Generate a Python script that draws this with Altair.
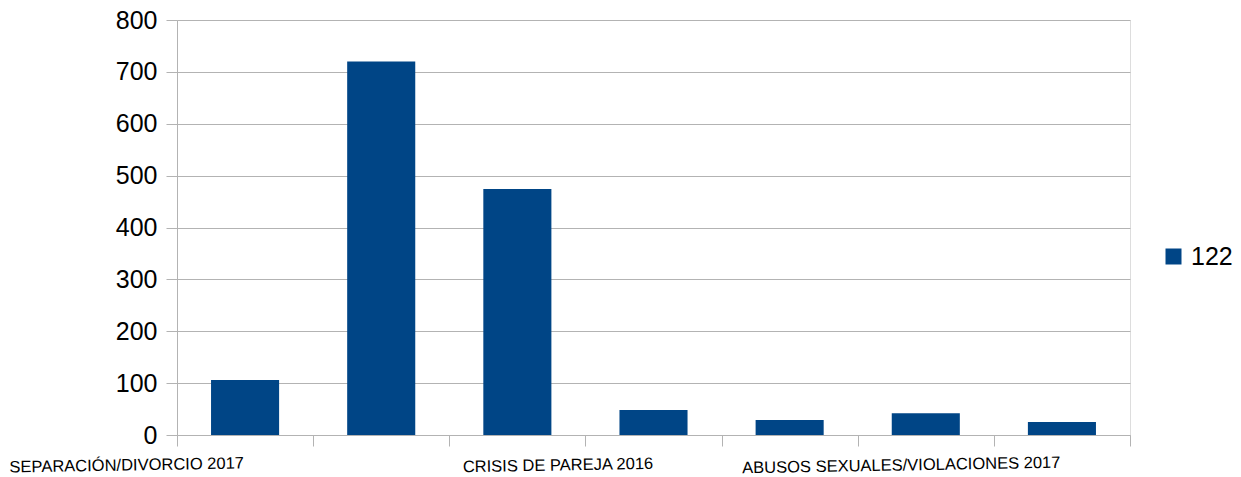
import altair as alt
import pandas as pd

categories = [
    "SEPARACIÓN/DIVORCIO 2017",
    "CATEGORÍA 2",
    "CRISIS DE PAREJA 2016",
    "CATEGORÍA 4",
    "ABUSOS SEXUALES/VIOLACIONES 2017",
    "CATEGORÍA 6",
    "CATEGORÍA 7",
]
values = [106, 720, 474, 48, 29, 42, 25]
shown_labels = ["SEPARACIÓN/DIVORCIO 2017", "CRISIS DE PAREJA 2016", "ABUSOS SEXUALES/VIOLACIONES 2017"]
label_offsets = [-119, 40, 111]
series_name = "122"
y_ticks = [0, 100, 200, 300, 400, 500, 600, 700, 800]

df = pd.DataFrame({"cat": categories, "val": values, "serie": [series_name] * len(categories)})

FONT = "Liberation Sans"
GRID = "#b3b3b3"

shown_js = "[" + ",".join("'" + s + "'" for s in shown_labels) + "]"
label_expr = f"indexof({shown_js}, datum.value) >= 0 ? datum.value : ''"

offset_cond = {
    "condition": [
        {"test": f"datum.value == '{shown_labels[0]}'", "value": label_offsets[0]},
        {"test": f"datum.value == '{shown_labels[1]}'", "value": label_offsets[1]},
    ],
    "value": label_offsets[2],
}

chart = alt.Chart(df).mark_bar(width=alt.RelativeBandSize(0.5)).encode(
    x=alt.X(
        "cat:N",
        sort=categories,
        scale=alt.Scale(paddingInner=0, paddingOuter=0),
        axis=alt.Axis(
            title=None,
            labelExpr=label_expr,
            labelAngle=359,
            labelAlign="center",
            labelBaseline="top",
            labelFont=FONT,
            labelFontSize=16.5,
            labelColor="#000000",
            labelPadding=11,
            labelOffset=offset_cond,
            labelOverlap=False,
            labelLimit=0,
            tickBand="extent",
            tickSize=11,
            tickColor=GRID,
            domainColor=GRID,
            grid=False,
        ),
    ),
    y=alt.Y(
        "val:Q",
        scale=alt.Scale(domain=[0, 800], nice=False),
        axis=alt.Axis(
            title=None,
            values=y_ticks,
            labelFont=FONT,
            labelFontSize=25,
            labelColor="#000000",
            labelPadding=9,
            tickSize=11,
            tickColor=GRID,
            domainColor=GRID,
            gridColor=GRID,
        ),
    ),
    color=alt.Color(
        "serie:N",
        scale=alt.Scale(range=["#004586"]),
        legend=alt.Legend(
            title=None,
            orient="none",
            legendX=984,
            legendY=224,
            symbolType="square",
            symbolSize=256,
            symbolStrokeWidth=0,
            labelFont=FONT,
            labelFontSize=25,
            labelColor="#000000",
            labelOffset=5,
        ),
    ),
).properties(
    width=953,
    height=415,
    autosize=alt.AutoSizeParams(type="none"),
    padding={"left": 169, "top": 12, "right": 103, "bottom": 40},
).configure_view(stroke=GRID).configure(background="white")

chart.save("out.html", embed_options={"renderer": "svg", "actions": False})
